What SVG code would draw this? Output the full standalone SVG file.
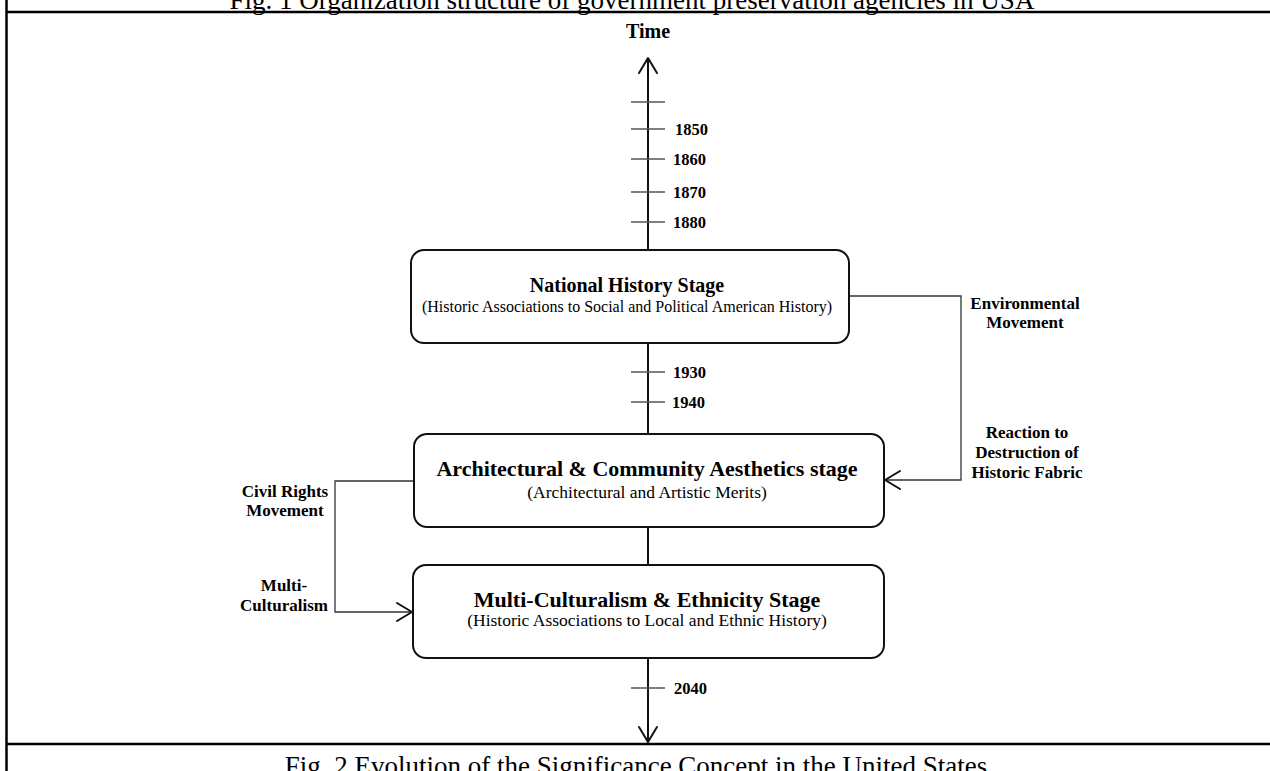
<svg xmlns="http://www.w3.org/2000/svg" width="1270" height="771" viewBox="0 0 1270 771">
<style>
.frame{stroke:#000;stroke-width:2.5;fill:none}
.box{fill:#fff;stroke:#111;stroke-width:2}
.axis{stroke:#111;stroke-width:2;fill:none}
.tick{stroke:#555;stroke-width:1.6}
.conn{stroke:#333;stroke-width:1.3;fill:none}
.head{stroke:#111;stroke-width:2;fill:none;stroke-linecap:round;stroke-linejoin:round}
.t{font-family:"Liberation Serif","Times New Roman",serif;fill:#000}
.title{font-size:20px;font-weight:bold;text-anchor:middle}
.title2{font-size:22px;font-weight:bold;text-anchor:middle}
.sub{font-size:17.5px;text-anchor:middle}
.yr{font-size:16.5px;font-weight:bold}
.lab{font-size:17px;font-weight:bold;text-anchor:middle}
.cap{font-size:27px;text-anchor:middle}
</style>
<rect width="1270" height="771" fill="#fff"/>
<g id="frame">
<line class="frame" x1="6.5" y1="0" x2="6.5" y2="771"/>
<line class="frame" x1="6.5" y1="12" x2="1270" y2="12"/>
<line class="frame" x1="6.5" y1="744" x2="1270" y2="744"/>
<text class="t cap" x="632" y="9">Fig. 1 Organization structure of government preservation agencies in USA</text>
<text class="t cap" x="636" y="775">Fig. 2 Evolution of the Significance Concept in the United States</text>
</g>
<g id="connectors">
<line class="axis" x1="648" y1="58" x2="648" y2="250"/>
<line class="axis" x1="648" y1="343" x2="648" y2="434"/>
<line class="axis" x1="648" y1="527" x2="648" y2="565"/>
<line class="axis" x1="648" y1="658" x2="648" y2="742"/>
<polyline class="head" points="639,73 648,58 657,73"/>
<polyline class="head" points="639,727 648,742 657,727"/>
<line class="tick" x1="631" y1="102" x2="665" y2="102"/>
<line class="tick" x1="631" y1="129" x2="665" y2="129"/>
<line class="tick" x1="631" y1="159" x2="665" y2="159"/>
<line class="tick" x1="631" y1="192" x2="665" y2="192"/>
<line class="tick" x1="631" y1="222" x2="665" y2="222"/>
<line class="tick" x1="631" y1="372" x2="665" y2="372"/>
<line class="tick" x1="631" y1="402" x2="665" y2="402"/>
<line class="tick" x1="631" y1="688" x2="665" y2="688"/>
<polyline class="conn" points="849,296 961,296 961,480 885,480"/>
<polyline class="head" points="900,471 885,480 900,489"/>
<polyline class="conn" points="414,481 335,481 335,612 412,612"/>
<polyline class="head" points="397,603 412,612 397,621"/>
</g>
<g id="labels">
<text class="t title" x="648" y="38">Time</text>
<text class="t yr" x="675" y="135">1850</text>
<text class="t yr" x="673" y="165">1860</text>
<text class="t yr" x="673" y="198">1870</text>
<text class="t yr" x="673" y="228">1880</text>
<text class="t yr" x="673" y="378">1930</text>
<text class="t yr" x="672" y="408">1940</text>
<text class="t yr" x="674" y="694">2040</text>
<text class="t lab" x="1025" y="309">Environmental</text>
<text class="t lab" x="1025" y="328">Movement</text>
<text class="t lab" x="1027" y="438">Reaction to</text>
<text class="t lab" x="1027" y="458">Destruction of</text>
<text class="t lab" x="1027" y="478">Historic Fabric</text>
<text class="t lab" x="285" y="497">Civil Rights</text>
<text class="t lab" x="285" y="516">Movement</text>
<text class="t lab" x="284" y="591">Multi-</text>
<text class="t lab" x="284" y="611">Culturalism</text>
</g>
<g id="node-national">
<rect class="box" x="411" y="250" width="438" height="93" rx="13"/>
<text class="t title" x="627" y="292">National History Stage</text>
<text class="t sub" x="627" y="312" style="font-size:16px">(Historic Associations to Social and Political American History)</text>
</g>
<g id="node-architectural">
<rect class="box" x="414" y="434" width="470" height="93" rx="13"/>
<text class="t title2" x="647" y="476">Architectural &amp; Community Aesthetics stage</text>
<text class="t sub" x="647" y="498">(Architectural and Artistic Merits)</text>
</g>
<g id="node-multicultural">
<rect class="box" x="413" y="565" width="471" height="93" rx="13"/>
<text class="t title2" x="647" y="607">Multi-Culturalism &amp; Ethnicity Stage</text>
<text class="t sub" x="647" y="626">(Historic Associations to Local and Ethnic History)</text>
</g>
</svg>
